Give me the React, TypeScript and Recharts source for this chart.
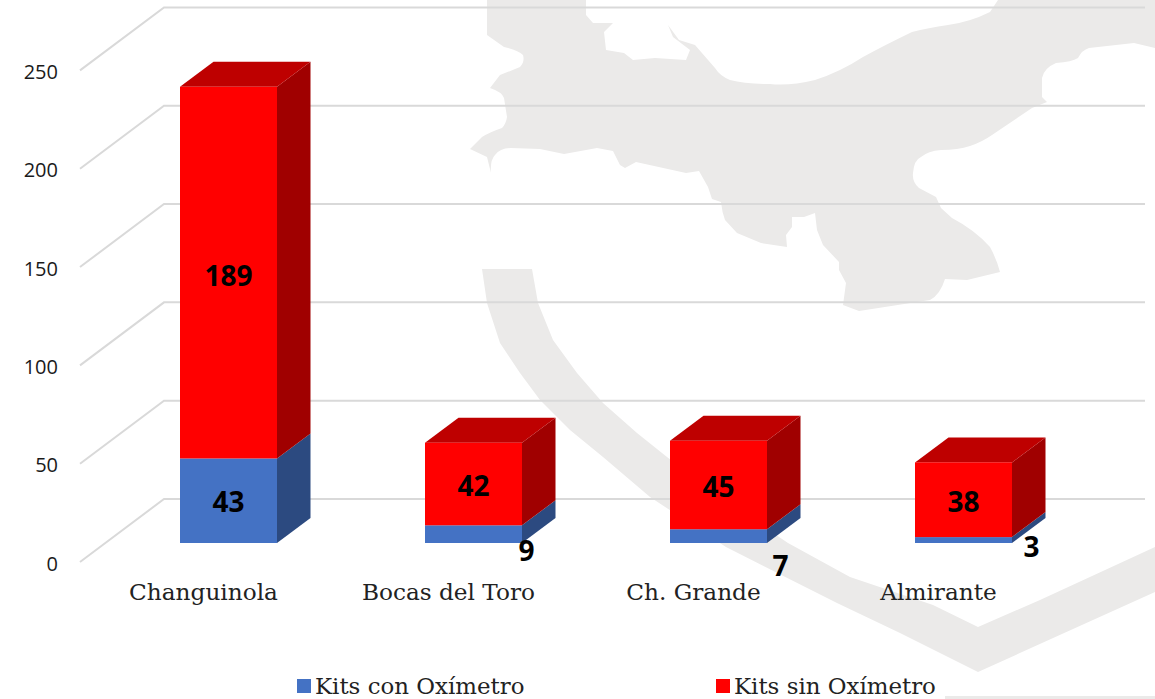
import React from "react";
import { BarChart, Bar, XAxis, YAxis, CartesianGrid, Legend, LabelList } from "recharts";

const categories = ["Changuinola", "Bocas del Toro", "Ch. Grande", "Almirante"];
const kitsCon = [43, 9, 7, 3];
const kitsSin = [189, 42, 45, 38];
const yTicks = [0, 50, 100, 150, 200, 250];

const conLabelShift: [number, number][] = [[0, 0], [53, 16], [62, 29], [68, 6]];
const sinLabelShift: [number, number][] = [[0, 2], [0, 1], [0, 1], [0, 1]];

const data = categories.map((name, i) => ({ name, con: kitsCon[i], sin: kitsSin[i] }));

const W = 1155;
const H = 699;
const DEPTH_X = 33.5;
const DEPTH_Y = 25;
const SERIF = "'DejaVu Serif', serif";
const SANS = "'Open Sans', sans-serif";
const WATERMARK = "#EBEAE9";

const MAP_PATH =
  "M487,0 L487,35 L504,47 Q518,50 523,55 Q525,62 520,67 Q508,72 500,75 L490,88 Q502,92 504,98 L507,117 Q506,124 502,128 Q490,132 482,137 L470,149 L487,157 L491,173 Q490,160 495,155 Q500,148 511,148 L540,149 L564,154 L597,148 L613,151 L620,165 L625,168 L636,162 L686,173 L699,171 L708,187 L712,199 L721,202 Q722,212 725,220 L737,233 L761,243 L787,247 L786,235 L792,227 L792,217 L804,217 L815,213 L817,230 L823,245 L839,262 L839,270 L846,283 L843,305 L859,311 L930,300 Q940,295 945,279 L967,280 L1000,272 Q997,260 990,247 Q975,230 952,218 L941,208 L936,197 L919,188 Q912,182 913,173 Q914,160 921,157 Q928,151 941,150 Q958,150 970,146 Q982,142 992,135 L1032,108 L1047,102 L1042,97 L1042,78 Q1044,68 1056,63 Q1072,62 1078,58 Q1082,50 1089,48 L1134,43 L1155,48 L1155,0 L998,0 L990,12 Q970,22 948,25 Q928,28 912,32 Q885,45 863,57 Q840,72 815,80 Q790,86 770,84 Q745,84 730,80 Q720,76 715,68 L695,45 L679,40 L668,25 L673,37 L690,50 L686,60 L655,58 L633,60 L624,53 L606,50 L604,32 L613,23 L593,23 L586,15 L586,0 Z";
const SWOOSH_PATH =
  "M482,269 L532,269 L538,303 L553,340 L577,373 L603,403 L637,433 L667,457 L720,497 L788,543 L850,577 L933,605 L978,627 L1040,600 L1155,547 L1155,592 L978,672 L900,633 L837,603 L726,547 L650,497 L603,457 L570,430 L540,400 L520,373 L500,343 L487,303 Z";
const STRIP_PATH = "M945,696 L1155,696 L1155,699 L945,699 Z";

function Box(props: any) {
  const { x, y, width, height, fill, side, top, withTop } = props;
  if (!height || height <= 0) return null;
  const r = x + width;
  const b = y + height;
  return (
    <g>
      <polygon
        points={`${r},${y} ${r + DEPTH_X},${y - DEPTH_Y} ${r + DEPTH_X},${b - DEPTH_Y} ${r},${b}`}
        fill={side}
      />
      {withTop && (
        <polygon
          points={`${x},${y} ${x + DEPTH_X},${y - DEPTH_Y} ${r + DEPTH_X},${y - DEPTH_Y} ${r},${y}`}
          fill={top}
        />
      )}
      <rect x={x} y={y} width={width} height={height} fill={fill} />
    </g>
  );
}

function makeLabel(shift: [number, number][]) {
  return function ValueLabel(props: any) {
    const { x, y, width, height, value, index } = props;
    const [dx, dy] = shift[index] || [0, 0];
    return (
      <text
        x={x + width / 2 + dx}
        y={y + height / 2 + dy}
        textAnchor="middle"
        dominantBaseline="central"
        fontFamily={SANS}
        fontWeight={700}
        fontSize={28}
        fill="#000"
      >
        {value}
      </text>
    );
  };
}

function YTick(props: any) {
  const { y, payload } = props;
  return (
    <text x={58} y={y + 20} textAnchor="end" dominantBaseline="central" fontFamily={SANS} fontSize={20} fill="#1a1a1a">
      {payload.value}
    </text>
  );
}

function XTick(props: any) {
  const { x, payload } = props;
  return (
    <text x={x - 25} y={591} textAnchor="middle" dominantBaseline="central" fontFamily={SERIF} fontSize={23.2} fill="#222">
      {payload.value}
    </text>
  );
}

function GridLine(props: any) {
  const { x1, x2, y1, index } = props;
  return (
    <polyline
      key={index}
      points={`${x1 - 26},${y1 + 19} ${x1 + 58},${y1 - 44} ${x2 + 59},${y1 - 44}`}
      fill="none"
      stroke="#D9D9D9"
      strokeWidth={2}
    />
  );
}

const legendLeft = [297, 716];

function LegendContent(props: any) {
  const items = props.payload || [];
  return (
    <div style={{ position: "relative", width: W, height: 26 }}>
      {items.map((item: any, i: number) => (
        <div
          key={item.value}
          style={{
            position: "absolute",
            left: legendLeft[i],
            top: 0,
            height: 26,
            display: "flex",
            alignItems: "center",
            whiteSpace: "nowrap",
            fontFamily: SERIF,
            fontSize: 22.9,
            color: "#222",
          }}
        >
          <span style={{ display: "inline-block", width: 14, height: 14, background: item.color, marginRight: 4 }} />
          {item.value}
        </div>
      ))}
    </div>
  );
}

export default function App() {
  return (
    <div style={{ position: "absolute", left: 0, top: 0, width: W, height: H, overflow: "hidden", background: "#fff" }}>
      <svg width={W} height={H} style={{ position: "absolute", left: 0, top: 0 }}>
        <path d={MAP_PATH} fill={WATERMARK} />
        <path d={SWOOSH_PATH} fill={WATERMARK} />
        <path d={STRIP_PATH} fill={WATERMARK} />
      </svg>
      <div style={{ position: "absolute", left: 0, top: 0 }}>
        <BarChart
          width={W}
          height={H}
          data={data}
          margin={{ top: 51.4, right: 69, bottom: 0, left: 0 }}
          barCategoryGap={0}
        >
          <CartesianGrid vertical={false} horizontal={GridLine as any} />
          <XAxis dataKey="name" height={156} axisLine={false} tickLine={false} tick={XTick as any} interval={0} />
          <YAxis
            width={106}
            domain={[0, 250]}
            ticks={yTicks}
            axisLine={false}
            tickLine={false}
            tick={YTick as any}
          />
          <Legend
            verticalAlign="middle"
            layout="horizontal"
            wrapperStyle={{ top: 673, left: 0, width: W }}
            content={LegendContent as any}
          />
          <Bar
            dataKey="con"
            name="Kits con Oxímetro"
            stackId="a"
            fill="#4472C4"
            barSize={97}
            isAnimationActive={false}
            shape={(p: any) => <Box {...p} fill="#4472C4" side="#2C4A80" top="#35599A" />}
          >
            <LabelList dataKey="con" content={makeLabel(conLabelShift) as any} />
          </Bar>
          <Bar
            dataKey="sin"
            name="Kits sin Oxímetro"
            stackId="a"
            fill="#FF0000"
            barSize={97}
            isAnimationActive={false}
            shape={(p: any) => <Box {...p} fill="#FF0000" side="#A00000" top="#BE0000" withTop />}
          >
            <LabelList dataKey="sin" content={makeLabel(sinLabelShift) as any} />
          </Bar>
        </BarChart>
      </div>
    </div>
  );
}
